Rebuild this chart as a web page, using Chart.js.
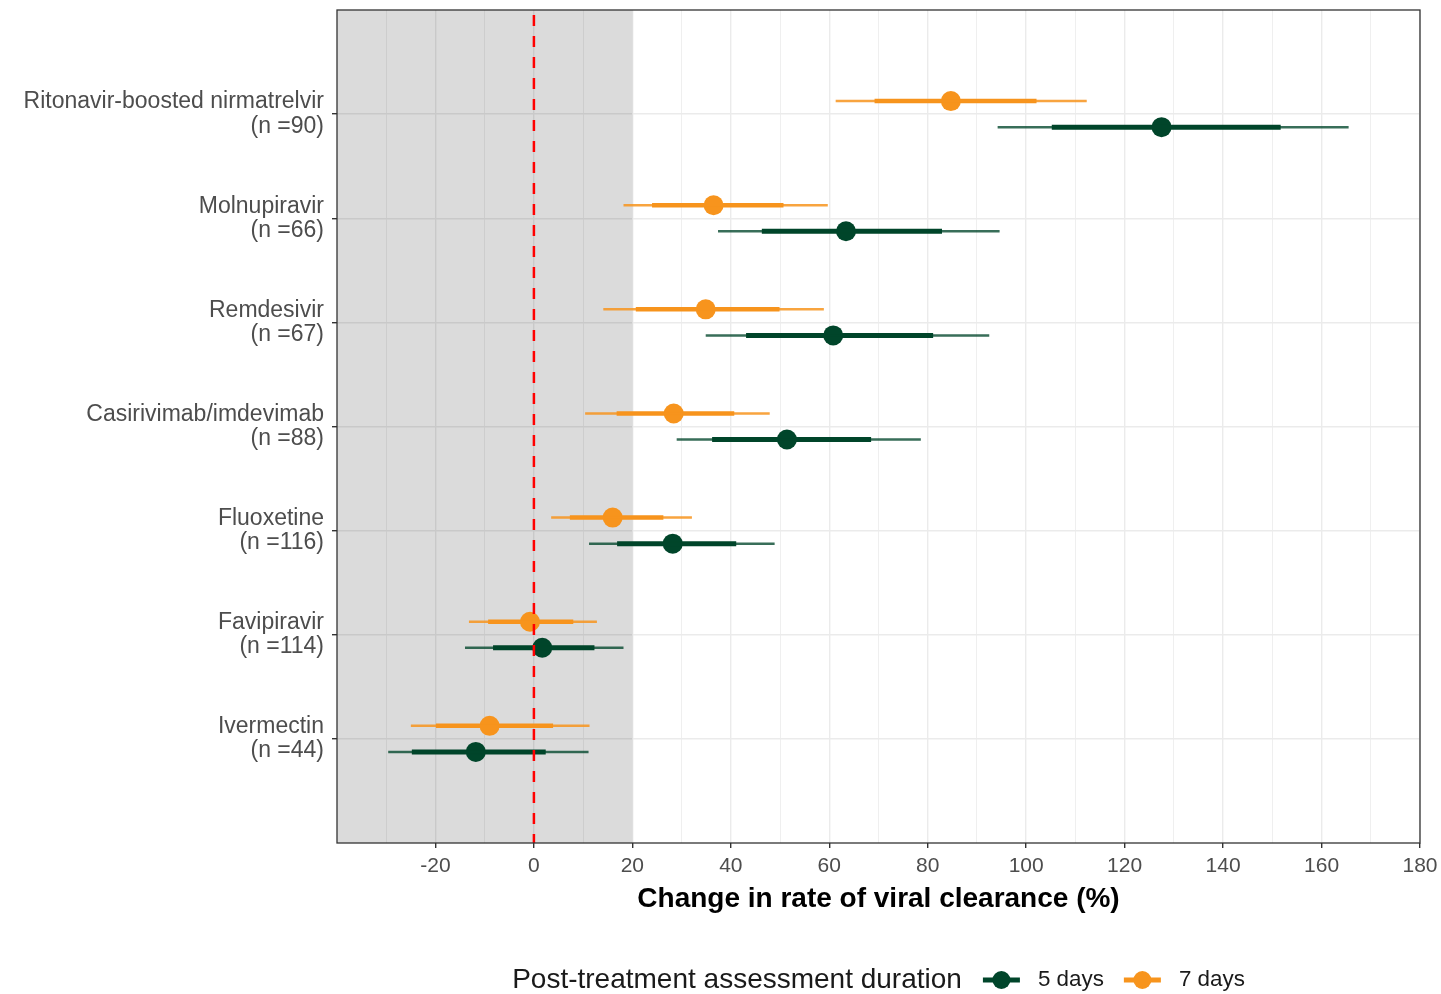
<!DOCTYPE html>
<html>
<head>
<meta charset="utf-8">
<title>Change in rate of viral clearance</title>
<script src="https://cdn.jsdelivr.net/npm/chart.js@4.4.1/dist/chart.umd.min.js"></script>
<style>
  html, body { margin: 0; padding: 0; background: #fff; }
  #wrap { width: 1441px; height: 994px; }
</style>
</head>
<body>
<div id="wrap"><canvas id="clearanceChart" width="1441" height="994"></canvas></div>
<script>
const drugs = ['Ritonavir-boosted nirmatrelvir', 'Molnupiravir', 'Remdesivir', 'Casirivimab/imdevimab', 'Fluoxetine', 'Favipiravir', 'Ivermectin'];
const nPatients = [90, 66, 67, 88, 116, 114, 44];

// 5 days
const est5 = [127.5, 63.4, 60.8, 51.4, 28.2, 1.7, -11.8];
const lo80_5 = [105.2, 46.3, 43.1, 36.2, 16.9, -8.3, -24.8];
const hi80_5 = [151.7, 82.9, 81.1, 68.5, 41.1, 12.3, 2.4];
const lo95_5 = [94.2, 37.4, 34.9, 29.0, 11.2, -14.0, -29.6];
const hi95_5 = [165.5, 94.6, 92.5, 78.6, 48.9, 18.2, 11.1];

// 7 days
const est7 = [84.7, 36.5, 34.9, 28.4, 16.0, -0.8, -9.0];
const lo80_7 = [69.2, 24.0, 20.7, 16.8, 7.3, -9.3, -19.9];
const hi80_7 = [102.1, 50.7, 49.9, 40.7, 26.3, 8.0, 3.9];
const lo95_7 = [61.3, 18.2, 14.1, 10.4, 3.5, -13.2, -25.0];
const hi95_7 = [112.3, 59.7, 58.9, 47.9, 32.1, 12.8, 11.3];

const xTicks = [-30, -20, -10, 0, 10, 20, 30, 40, 50, 60, 70, 80, 90, 100, 110, 120, 130, 140, 150, 160, 170, 180];
const shadeTo = 20;

const green = '#00452a';
const orange = '#f7941d';
const FONT = '"Liberation Sans", Arial, Helvetica, sans-serif';

function segments(lo, hi, dy) {
  const pts = [];
  drugs.forEach((d, i) => {
    pts.push({ x: lo[i], y: i + 1 + dy }, { x: hi[i], y: i + 1 + dy }, { x: null, y: null });
  });
  return pts;
}
function points(est, dy) {
  return est.map((v, i) => ({ x: v, y: i + 1 + dy }));
}

const panelPlugin = {
  id: 'panel',
  beforeDatasetsDraw(chart) {
    const { ctx, chartArea: a, scales: { x } } = chart;
    ctx.save();
    ctx.fillStyle = 'rgba(0,0,0,0.14)';
    ctx.fillRect(a.left, a.top, x.getPixelForValue(shadeTo) - a.left, a.bottom - a.top);
    ctx.restore();
  },
  afterDatasetsDraw(chart) {
    const { ctx, chartArea: a, scales: { x } } = chart;
    const x0 = x.getPixelForValue(0);
    ctx.save();
    ctx.strokeStyle = '#ff0000';
    ctx.lineWidth = 2.5;
    ctx.setLineDash([11, 10]);
    ctx.beginPath();
    ctx.moveTo(x0, a.top + 5);
    ctx.lineTo(x0, a.bottom);
    ctx.stroke();
    ctx.setLineDash([]);
    ctx.strokeStyle = '#333333';
    ctx.lineWidth = 1.3;
    ctx.strokeRect(a.left, a.top, a.right - a.left, a.bottom - a.top);
    ctx.restore();
  },
  afterDraw(chart) {
    const { ctx, chartArea: a } = chart;
    const title = 'Post-treatment assessment duration';
    const items = [{ text: '5 days', color: green }, { text: '7 days', color: orange }];
    const y = 980;
    ctx.save();
    ctx.textBaseline = 'middle';
    ctx.font = '28px ' + FONT;
    const titleW = ctx.measureText(title).width;
    ctx.font = '22.4px ' + FONT;
    const widths = items.map(it => ctx.measureText(it.text).width);
    const keyW = 37;
    let total = titleW + 21;
    widths.forEach((w, i) => { total += keyW + 18 + w + (i < items.length - 1 ? 20 : 0); });
    let cx = (a.left + a.right) / 2 - total / 2;
    ctx.fillStyle = '#1a1a1a';
    ctx.font = '28px ' + FONT;
    ctx.fillText(title, cx, y);
    cx += titleW + 21;
    items.forEach((it, i) => {
      ctx.strokeStyle = it.color;
      ctx.fillStyle = it.color;
      ctx.lineWidth = 5;
      ctx.beginPath();
      ctx.moveTo(cx, y);
      ctx.lineTo(cx + keyW, y);
      ctx.stroke();
      ctx.beginPath();
      ctx.arc(cx + keyW / 2, y, 9, 0, Math.PI * 2);
      ctx.fill();
      cx += keyW + 18;
      ctx.fillStyle = '#1a1a1a';
      ctx.font = '22.4px ' + FONT;
      ctx.fillText(it.text, cx, y);
      cx += widths[i] + 20;
    });
    ctx.restore();
  }
};

const ctx = document.getElementById('clearanceChart').getContext('2d');
new Chart(ctx, {
  type: 'scatter',
  data: {
    datasets: [
      { type: 'line', data: segments(lo95_5, hi95_5, 0.125), borderColor: 'rgba(0,69,42,0.78)', borderWidth: 2.5, pointRadius: 0 },
      { type: 'line', data: segments(lo80_5, hi80_5, 0.125), borderColor: green, borderWidth: 5, pointRadius: 0 },
      { data: points(est5, 0.125), backgroundColor: green, borderWidth: 0, pointRadius: 10 },
      { type: 'line', data: segments(lo95_7, hi95_7, -0.125), borderColor: 'rgba(247,148,29,0.85)', borderWidth: 2.5, pointRadius: 0 },
      { type: 'line', data: segments(lo80_7, hi80_7, -0.125), borderColor: orange, borderWidth: 4.5, pointRadius: 0 },
      { data: points(est7, -0.125), backgroundColor: orange, borderWidth: 0, pointRadius: 10 }
    ]
  },
  options: {
    responsive: false,
    animation: false,
    layout: { padding: { top: 6, right: 21, bottom: 78, left: 0 } },
    plugins: { legend: { display: false }, tooltip: { enabled: false } },
    scales: {
      x: {
        type: 'linear',
        min: -40,
        max: 180,
        afterBuildTicks: axis => { axis.ticks = xTicks.map(v => ({ value: v })); },
        afterFit: scale => {
          scale.height = 73;
          scale.paddingLeft = 0;
          scale.paddingRight = 0;
        },
        border: { display: false },
        grid: {
          color: '#ebebeb',
          lineWidth: c => (c.tick && c.tick.value % 20 === 0 ? 1.4 : 0.8),
          tickColor: c => (c.tick && c.tick.value % 20 === 0 ? '#333333' : 'rgba(0,0,0,0)'),
          tickLength: 5
        },
        ticks: {
          autoSkip: false,
          maxRotation: 0,
          padding: 6,
          color: '#4d4d4d',
          font: { family: FONT, size: 21 },
          callback: v => (v % 20 === 0 ? String(v) : '')
        },
        title: {
          display: true,
          text: 'Change in rate of viral clearance (%)',
          color: '#000',
          padding: 0,
          font: { family: FONT, size: 28, weight: 'bold' }
        }
      },
      y: {
        type: 'linear',
        reverse: true,
        min: 0,
        max: 8,
        afterBuildTicks: axis => { axis.ticks = drugs.map((d, i) => ({ value: i + 1 })); },
        afterFit: scale => {
          scale.width = 337;
          scale.paddingTop = 0;
          scale.paddingBottom = 0;
        },
        border: { display: false },
        grid: { color: '#ebebeb', lineWidth: 1.4, tickColor: '#333333', tickLength: 5 },
        ticks: {
          autoSkip: false,
          padding: 8,
          color: '#4d4d4d',
          font: { family: FONT, size: 23, lineHeight: 1.05 },
          callback: v => [drugs[v - 1], '(n =' + nPatients[v - 1] + ')']
        }
      }
    }
  },
  plugins: [panelPlugin]
});
</script>
</body>
</html>
